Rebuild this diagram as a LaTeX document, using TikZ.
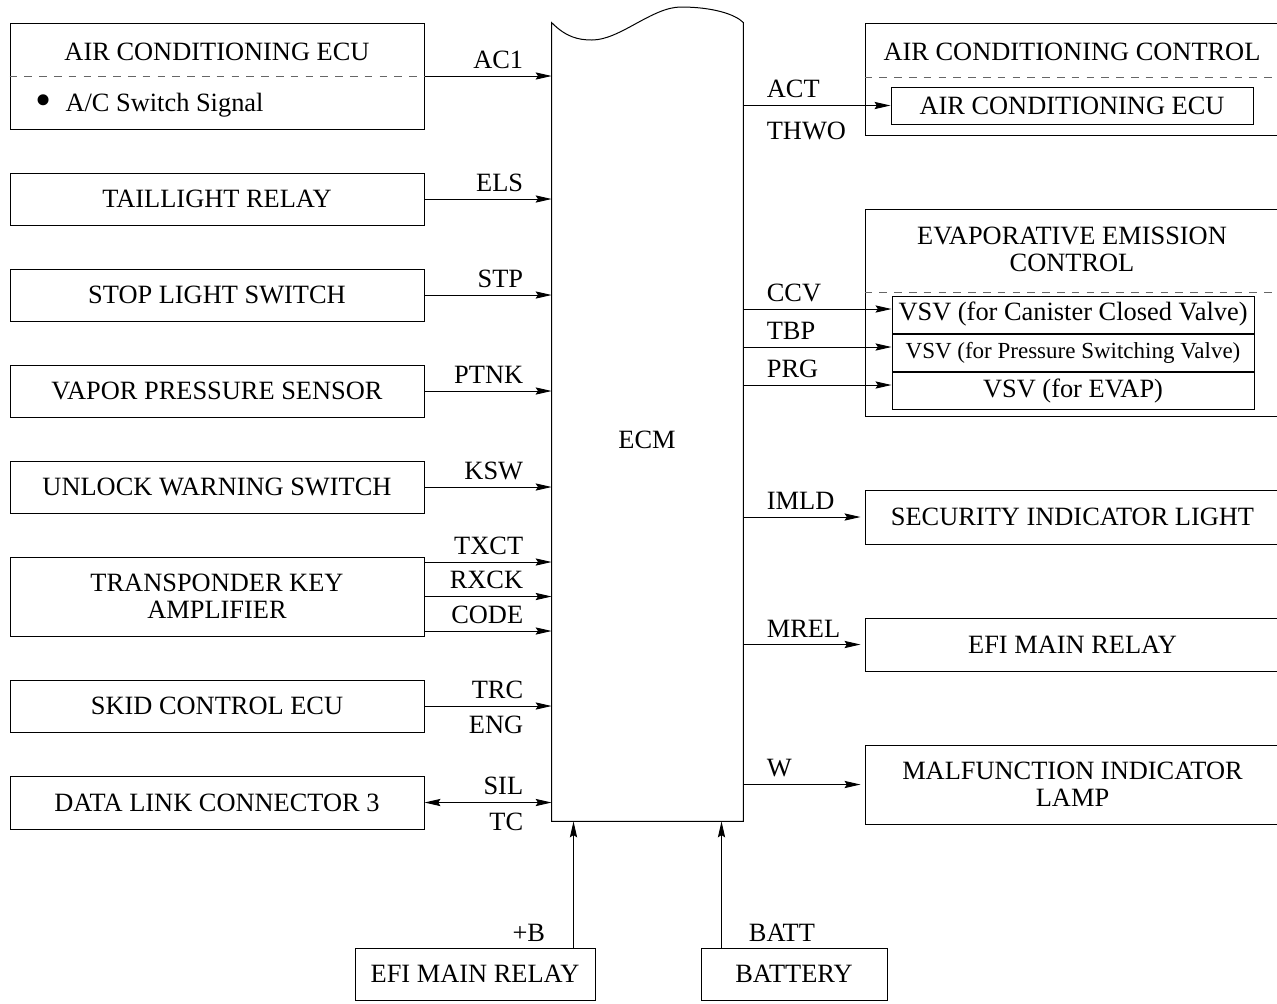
\documentclass[tikz,border=0pt]{standalone}
\usepackage{fontspec}
\setmainfont{Liberation Serif}
\usetikzlibrary{arrows.meta,positioning}

\begin{document}
\begin{tikzpicture}[
  x=0.5pt, y=-0.5pt,
  font=\fontsize{13.2}{13.5}\selectfont,
  node distance=21.5pt,
  blockbox/.style={draw, line width=0.5pt, minimum width=207pt, minimum height=26pt,
    align=center, inner sep=0pt},
  sidebox/.style={blockbox, minimum width=207.5pt},
  subbox/.style={blockbox, minimum width=181pt, minimum height=18.5pt},
  divider/.style={black!60, line width=0.5pt, dash pattern=on 3.8pt off 3.6pt},
  sig/.style={-{Stealth[length=8pt,width=3.6pt,inset=1.2pt]}, line width=0.45pt},
  bisig/.style={{Stealth[length=8pt,width=3.6pt,inset=1.2pt]}-{Stealth[length=8pt,width=3.6pt,inset=1.2pt]},
    line width=0.45pt},
  inlab/.style={pos=1, anchor=south east, inner sep=0pt, xshift=-14pt, yshift=3.5pt},
  inlabb/.style={pos=1, anchor=north east, inner sep=0pt, xshift=-14pt, yshift=-5pt},
  outlab/.style={pos=0, anchor=south west, inner sep=0pt, xshift=11.5pt, yshift=3.5pt},
  outlabb/.style={pos=0, anchor=north west, inner sep=0pt, xshift=11.5pt, yshift=-8pt}
]
\useasboundingbox (0,0) rectangle (1277,1003);

% ECM block with wavy top
\node[minimum width=95.5pt, minimum height=399pt, inner sep=0pt] (ecm) at (647.5,422) {};
\draw[line width=0.5pt] (ecm.north west) .. controls (566,37) and (578,40) .. (592,40)
  .. controls (620,40) and (652,7) .. (681,7) .. controls (712,7) and (735,14) .. (ecm.north east)
  -- (ecm.south east) -- (ecm.south west) -- cycle;
\node (ecmtext) at (647,440) {ECM};

% inputs
\node[blockbox, minimum height=53pt] (acecu) at (217,76) {};
\node (acecutitle) at (217,52) {AIR CONDITIONING ECU};
\node[anchor=west, inner sep=0pt] (acswitch) at (35,105)
  {\raisebox{-2pt}{\fontsize{23}{13}\selectfont\textbullet}\hspace{7pt}A/C Switch Signal};
\node[blockbox, below=of acecu] (taillight) {TAILLIGHT RELAY};
\node[blockbox, below=of taillight] (stoplight) {STOP LIGHT SWITCH};
\node[blockbox, below=of stoplight] (vapor) {VAPOR PRESSURE SENSOR};
\node[blockbox, below=of vapor] (unlock) {UNLOCK WARNING SWITCH};
\node[blockbox, below=of unlock, minimum height=39.5pt] (transponder) {TRANSPONDER KEY\\AMPLIFIER};
\node[blockbox, below=of transponder] (skid) {SKID CONTROL ECU};
\node[blockbox, below=of skid, minimum height=26.5pt] (dlc) {DATA LINK CONNECTOR 3};

% outputs
\node[sidebox, minimum height=56pt] (acctrl) at (1072.5,79) {};
\node (acctrltitle) at (1072,52) {AIR CONDITIONING CONTROL};
\node[subbox] (acunit) at (1072,105.5) {AIR CONDITIONING ECU};
\node[sidebox, minimum height=103.5pt, below=36.5pt of acctrl] (evap) {};
\node[align=center] (evaptitle) at (1072,249.5) {EVAPORATIVE EMISSION\\CONTROL};
\node[subbox] (ccv) at (1073,314.5) {VSV (for Canister Closed Valve)};
\node[subbox, below=0pt of ccv, font=\fontsize{11.5}{13}\selectfont] (tbp) {VSV (for Pressure Switching Valve)};
\node[subbox, below=0pt of tbp] (prg) {VSV (for EVAP)};
\node[sidebox, minimum height=27pt, below=36.5pt of evap] (security) {SECURITY INDICATOR LIGHT};
\node[sidebox, minimum height=26.5pt, below=36.5pt of security] (efimain) {EFI MAIN RELAY};
\node[sidebox, minimum height=39.5pt, below=36.5pt of efimain] (mil) {MALFUNCTION INDICATOR\\LAMP};

% power
\node[blockbox, minimum width=120pt] (efirelay) at (475,974) {EFI MAIN RELAY};
\node[blockbox, minimum width=93pt] (battery) at (794,974) {BATTERY};

\draw[divider] (acecu.west) -- (acecu.east);
\draw[divider] ([yshift=1pt]acctrl.west) -- ([yshift=1pt]acctrl.east);
\draw[divider] ([yshift=10.25pt]evap.west) -- ([yshift=10.25pt]evap.east);

\draw[sig] (acecu.east) -- (acecu.east -| ecm.west) node[inlab] {AC1};
\draw[sig] (taillight.east) -- (taillight.east -| ecm.west) node[inlab] {ELS};
\draw[sig] (stoplight.east) -- (stoplight.east -| ecm.west) node[inlab] {STP};
\draw[sig] (vapor.east) -- (vapor.east -| ecm.west) node[inlab] {PTNK};
\draw[sig] (unlock.east) -- (unlock.east -| ecm.west) node[inlab] {KSW};
\draw[sig] ([yshift=17.25pt]transponder.east) -- ([yshift=17.25pt]transponder.east -| ecm.west) node[inlab] {TXCT};
\draw[sig] (transponder.east) -- (transponder.east -| ecm.west) node[inlab] {RXCK};
\draw[sig] ([yshift=-17.25pt]transponder.east) -- ([yshift=-17.25pt]transponder.east -| ecm.west) node[inlab] {CODE};
\draw[sig] (skid.east) -- (skid.east -| ecm.west) node[inlab] {TRC} node[inlabb] {ENG};
\draw[bisig] (dlc.east) -- (dlc.east -| ecm.west) node[inlab] {SIL} node[inlabb] {TC};

\draw[sig] (acunit.west -| ecm.east) -- (acunit.west) node[outlab] {ACT} node[outlabb] {THWO};
\draw[sig] ([yshift=2.75pt]ccv.west -| ecm.east) -- ([yshift=2.75pt]ccv.west) node[outlab] {CCV};
\draw[sig] ([yshift=2.75pt]tbp.west -| ecm.east) -- ([yshift=2.75pt]tbp.west) node[outlab] {TBP};
\draw[sig] ([yshift=2.75pt]prg.west -| ecm.east) -- ([yshift=2.75pt]prg.west) node[outlab] {PRG};
\draw[sig, shorten >=2pt] (security.west -| ecm.east) -- (security.west) node[outlab] {IMLD};
\draw[sig, shorten >=2pt] (efimain.west -| ecm.east) -- (efimain.west) node[outlab] {MREL};
\draw[sig, shorten >=2pt] (mil.west -| ecm.east) -- (mil.west) node[outlab] {W};

\draw[sig] ([xshift=-11pt]efirelay.north east) -- ([xshift=-11pt]efirelay.north east |- ecm.south)
  node[pos=0, anchor=south east, inner sep=0pt, xshift=-14pt, yshift=3pt] {+B};
\draw[sig] ([xshift=10.5pt]battery.north west) -- ([xshift=10.5pt]battery.north west |- ecm.south)
  node[pos=0, anchor=south west, inner sep=0pt, xshift=13.5pt, yshift=3pt] {BATT};
\end{tikzpicture}
\end{document}
